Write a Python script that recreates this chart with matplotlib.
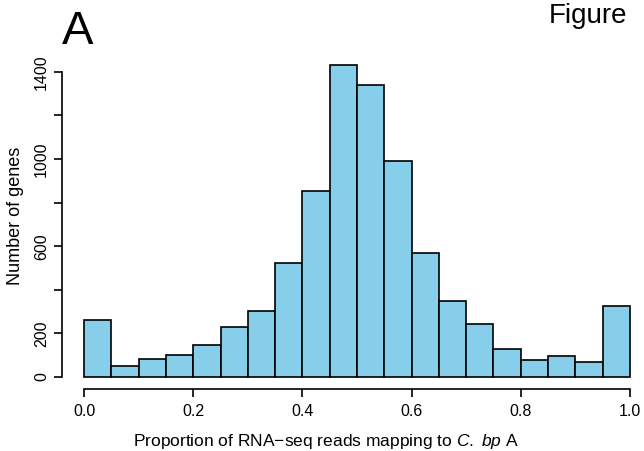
import numpy as np
import matplotlib
matplotlib.use("Agg")
import matplotlib.pyplot as plt

plt.rcParams['font.family'] = ['Liberation Sans', 'DejaVu Sans']
plt.rcParams['mathtext.fontset'] = 'custom'
plt.rcParams['mathtext.rm'] = 'Liberation Sans'
plt.rcParams['mathtext.it'] = 'Liberation Sans:italic'

# histogram counts, 20 bins of width 0.05 over [0, 1]
bin_edges = np.linspace(0, 1, 21)
counts = [262, 50, 84, 100, 145, 231, 304, 523, 855, 1432,
          1340, 990, 569, 350, 242, 127, 78, 98, 67, 327]
yticks = [0, 200, 400, 600, 800, 1000, 1200, 1400]
ylabels = ['0', '200', '', '600', '', '1000', '', '1400']
xticks = [0.0, 0.2, 0.4, 0.6, 0.8, 1.0]

W, H = 644, 451
fig = plt.figure(figsize=(W / 100, H / 100), dpi=100)
ax = fig.add_axes([0.0966, 0.1364, 0.9155, 0.7472])

ax.bar(bin_edges[:-1], counts, width=0.05, align='edge',
       color='#87CEEB', edgecolor='black', linewidth=1.2)

ax.set_xlim(-0.04, 1.04)
ax.set_ylim(-57.3, 1489)

for s in ['top', 'right']:
    ax.spines[s].set_visible(False)
ax.spines['left'].set_bounds(0, 1400)
ax.spines['bottom'].set_bounds(0, 1)
ax.spines['left'].set_linewidth(1.2)
ax.spines['bottom'].set_linewidth(1.2)

ax.set_yticks(yticks)
ax.set_yticklabels(ylabels, rotation=90, va='center')
ax.set_xticks(xticks)
ax.set_xticklabels([f'{t:.1f}' for t in xticks])
ax.tick_params(direction='out', length=5.5, width=1.2, labelsize=11.5, pad=5)
ax.tick_params(axis='y', pad=4)

fig.text(15.5 / W, 1 - 216 / H, 'Number of genes', fontsize=13,
         rotation=90, ha='center', va='center')
fig.text(326 / W, 1 - 446 / H,
         'Proportion of RNA\u2212seq reads mapping to $\\it{C.}$ $\\it{bp}$ A',
         fontsize=12.5, ha='center', va='baseline')

fig.text(62 / W, 1 - 44 / H, 'A', fontsize=34, ha='left', va='baseline')
fig.text(549 / W, 1 - 23 / H, 'Figure', fontsize=20, ha='left', va='baseline')

fig.savefig('out.png', dpi=100)
